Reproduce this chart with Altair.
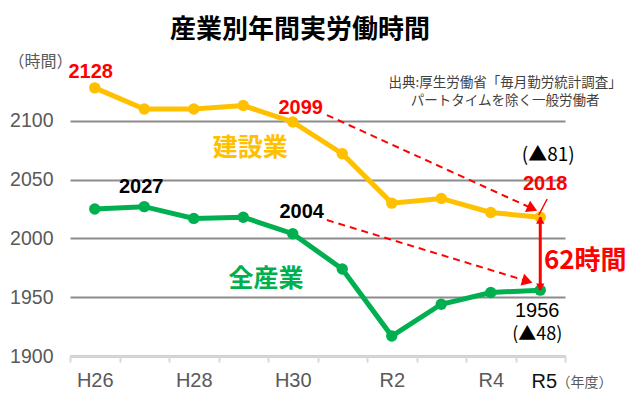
import altair as alt
import pandas as pd

# ---- data ----
years = ["H26", "H27", "H28", "H29", "H30", "R1", "R2", "R3", "R4", "R5"]
construction = [2128, 2110, 2110, 2113, 2099, 2072, 2030, 2034, 2022, 2018]
all_industry = [2025, 2027, 2017, 2018, 2004, 1974, 1917, 1944, 1954, 1956]
shown_labels = ["H26", "H28", "H30", "R2", "R4"]
last_label = "R5"
y_ticks = [1900, 1950, 2000, 2050, 2100]
series_names = ["建設業", "全産業"]

YELLOW = "#FFC000"
GREEN = "#00B050"
RED = "#FF0000"
GREY = "#595959"
NUM_FONT = "Liberation Sans"
JP_FONT = "Noto Sans CJK JP"

n = len(years)
idx = list(range(n))
df = pd.DataFrame({
    "i": idx * 2,
    "year": years * 2,
    "hours": construction + all_industry,
    "series": [series_names[0]] * n + [series_names[1]] * n,
})

x_scale = alt.Scale(domain=[-0.5, n - 0.5], nice=False, zero=False)
y_scale = alt.Scale(domain=[1900, 2150], nice=False, zero=False)
color_scale = alt.Scale(domain=series_names, range=[YELLOW, GREEN])

W, H = 495, 294
boundaries = [k - 0.5 for k in range(n + 1)]
label_expr = " : ".join(
    f"datum.value == {years.index(l) - 0.5} ? '{l}'" for l in shown_labels
) + " : ''"

x_axis = alt.Axis(
    values=boundaries, labelExpr=label_expr, labelOffset=W / n / 2,
    labelFlush=False, labelOverlap=False, grid=False,
    labelFont=NUM_FONT, labelFontSize=20, labelPadding=8, labelColor=GREY,
    tickColor="#D9D9D9", tickSize=6, tickWidth=2,
    domainColor="#D9D9D9", domainWidth=2, zindex=1,
    title="（年度）", titleFont=JP_FONT, titleFontSize=14, titleFontWeight="normal",
    titleColor=GREY, titleX=514, titleY=26, titleAlign="center", titleBaseline="middle",
)
y_axis = alt.Axis(
    values=y_ticks, format="d", domain=False, ticks=False,
    labelFont=NUM_FONT, labelFontSize=19.5, labelColor=GREY, labelPadding=17,
    grid=True, gridColor="#8C8C8C", gridWidth=2,
    title="（時間）", titleAngle=0, titleX=-30, titleY=-1, titleAlign="center",
    titleBaseline="middle", titleFont=JP_FONT, titleFontSize=16,
    titleFontWeight="normal", titleColor=GREY,
)

base = alt.Chart(df).encode(
    x=alt.X("i:Q", scale=x_scale, axis=x_axis),
    y=alt.Y("hours:Q", scale=y_scale, axis=y_axis),
    color=alt.Color("series:N", scale=color_scale, legend=None),
)
lines = base.mark_line(strokeWidth=5)
points = base.mark_circle(size=130, opacity=1)


def X():
    return alt.X("i:Q", scale=x_scale)


def Y():
    return alt.Y("hours:Q", scale=y_scale)


# dashed arrows (data-space endpoints)
dash_df = pd.DataFrame({
    "i": [4.69, 4.69], "hours": [2104.9, 2015.6],
    "i2": [8.84, 8.74], "hours2": [2025.4, 1963.6],
})
dashes = alt.Chart(dash_df).mark_rule(color=RED, strokeWidth=2, strokeDash=[7, 5]).encode(
    x=X(), y=Y(), x2="i2:Q", y2="hours2:Q"
)
head_df = pd.DataFrame({"i": [8.84, 8.74], "hours": [2025.4, 1963.6], "ang": [24.5, 17.0]})
heads = alt.Chart(head_df).mark_point(shape="triangle-right", filled=True, size=150,
                                      color=RED, opacity=1).encode(
    x=X(), y=Y(), angle=alt.Angle("ang:Q", scale=None)
)

# vertical double arrow between R5 values
gap_df = pd.DataFrame({"i": [n - 1], "hours": [construction[-1]], "hours2": [all_industry[-1]]})
gap_rule = alt.Chart(gap_df).mark_rule(color=RED, strokeWidth=3).encode(
    x=X(), y=Y(), y2="hours2:Q"
)
gap_up = alt.Chart(gap_df).mark_point(shape="triangle-up", filled=True, size=70, color=RED,
                                      opacity=1, yOffset=3).encode(x=X(), y=Y())
gap_down = alt.Chart(gap_df).mark_point(shape="triangle-down", filled=True, size=70, color=RED,
                                        opacity=1, yOffset=-3).encode(
    x=X(), y=alt.Y("hours2:Q", scale=y_scale))

leader_df = pd.DataFrame({"i": [9.14], "hours": [2033.5], "i2": [8.97], "hours2": [2019.9]})
leader = alt.Chart(leader_df).mark_rule(color=RED, strokeWidth=1.5).encode(
    x=X(), y=Y(), x2="i2:Q", y2="hours2:Q"
)


def label(i, value, text, color, size, weight, dx=0, dy=0, font=NUM_FONT, **kw):
    d = pd.DataFrame({"i": [i], "hours": [value], "t": [text]})
    return alt.Chart(d).mark_text(
        color=color, fontSize=size, fontWeight=weight, font=font, dx=dx, dy=dy,
        align="center", baseline="middle", **kw
    ).encode(x=X(), y=Y(), text="t:N")


texts = [
    label(4.146, 2177.2, "産業別年間実労働時間", "#000000", 26, "bold", font=JP_FONT),
    label(8.29, 2132.1, "出典:厚生労働省「毎月勤労統計調査」\nパートタイムを除く一般労働者",
          "#404040", 13.5, "normal", font=JP_FONT, lineBreak="\n", lineHeight=18),
    label(0, construction[0], str(construction[0]), RED, 20, "bold", dx=-4, dy=-16),
    label(4, construction[4], str(construction[4]), RED, 20, "bold", dx=8, dy=-14),
    label(1, all_industry[1], str(all_industry[1]), "#000000", 20, "bold", dx=-3, dy=-20),
    label(4, all_industry[4], str(all_industry[4]), "#000000", 20, "bold", dx=9, dy=-22),
    label(n - 1, construction[-1], str(construction[-1]), RED, 20, "bold", dx=5, dy=-33),
    label(n - 1, construction[-1], f"(▲{construction[4] - construction[-1]})", "#000000",
          19, "normal", dx=8, dy=-62, font=JP_FONT),
    label(n - 1, all_industry[-1], str(all_industry[-1]), "#000000", 20, "normal", dx=-3, dy=21),
    label(n - 1, all_industry[-1], f"(▲{all_industry[4] - all_industry[-1]})", "#000000",
          18, "normal", dx=-3, dy=45, font=JP_FONT),
    label(n - 1, (construction[-1] + all_industry[-1]) / 2,
          f"{construction[-1] - all_industry[-1]}時間", RED, 26, "bold", dx=45, dy=7, font=JP_FONT),
    label(3.14, 2076.9, series_names[0], YELLOW, 25, "bold", font=JP_FONT),
    label(3.46, 1965.5, series_names[1], GREEN, 25, "bold", font=JP_FONT),
    # last x-axis category label (drawn darker in the reference)
    label(n - 1, 1900, last_label, "#111111", 20, "normal", dx=4, dy=26),
]

chart = alt.layer(
    lines, dashes, heads, points, gap_rule, gap_up, gap_down, leader, *texts
).properties(
    width=W, height=H,
    autosize=alt.AutoSizeParams(type="none"),
    padding={"left": 62, "top": 54, "right": 67, "bottom": 35},
    background="white",
).configure_view(stroke=None)

chart.save("out.html", embed_options={"renderer": "svg", "actions": False})
